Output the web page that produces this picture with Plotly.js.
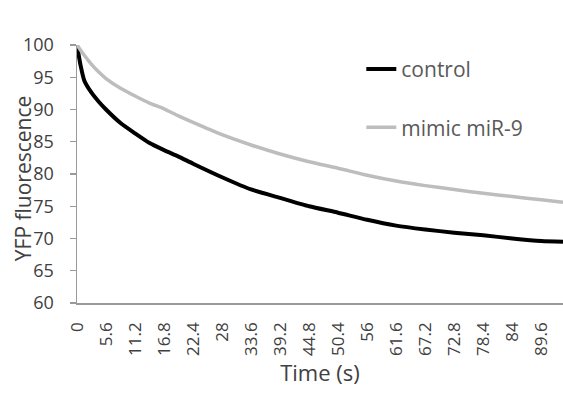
<!DOCTYPE html>
<html>
<head>
<meta charset="utf-8">
<script src="https://cdn.plot.ly/plotly-3.0.1.min.js"></script>
<style>html,body{margin:0;padding:0;background:#fff;}#chart{width:563px;height:396px;}</style>
</head>
<body>
<div id="chart"></div>
<script>
const timeS = [0, 0.7, 1.4, 2.8, 4.2, 5.6, 8.4, 11.2, 14, 16.8, 19.6, 22.4, 28, 33.6, 39.2, 44.8, 50.4, 56, 61.6, 67.2, 72.8, 78.4, 84, 89.6, 93.8];
const controlValues = [100, 96.8, 94.5, 92.6, 91.2, 90.0, 87.9, 86.3, 84.8, 83.7, 82.7, 81.6, 79.5, 77.6, 76.3, 75.0, 74.0, 72.9, 72.0, 71.4, 70.9, 70.5, 70.0, 69.6, 69.5];
const mimicValues = [100, 99.2, 98.4, 97.0, 95.8, 94.8, 93.3, 92.1, 91.0, 90.1, 89.0, 88.0, 86.1, 84.5, 83.1, 81.9, 80.9, 79.8, 78.9, 78.2, 77.6, 77.0, 76.5, 76.0, 75.6];
const xTickVals = [0, 5.6, 11.2, 16.8, 22.4, 28, 33.6, 39.2, 44.8, 50.4, 56, 61.6, 67.2, 72.8, 78.4, 84, 89.6];
const xTickText = ["0", "5.6", "11.2", "16.8", "22.4", "28", "33.6", "39.2", "44.8", "50.4", "56", "61.6", "67.2", "72.8", "78.4", "84", "89.6"];
const yTickVals = [60, 65, 70, 75, 80, 85, 90, 95, 100];
const seriesNames = ["control", "mimic miR-9"];
const xTitle = "Time (s)";
const yTitle = "YFP fluorescence";

const FONT = "Open Sans, Liberation Sans, sans-serif";
const traces = [
  {x: timeS, y: controlValues, name: seriesNames[0], type: "scatter", mode: "lines",
   line: {color: "#000000", width: 4, shape: "spline", smoothing: 0.6}, legendgroup: "a"},
  {x: timeS, y: mimicValues, name: seriesNames[1], type: "scatter", mode: "lines",
   line: {color: "#BDBDBD", width: 3.5, shape: "spline", smoothing: 0.6}, legendgroup: "b"}
];
const layout = {
  width: 563, height: 396,
  margin: {l: 77, r: 0, t: 45, b: 93},
  paper_bgcolor: "#fff", plot_bgcolor: "#fff",
  font: {family: FONT, color: "#595959", size: 14},
  showlegend: true,
  legend: {x: 0.585, y: 0.985, xanchor: "left", yanchor: "top", bgcolor: "rgba(0,0,0,0)",
    font: {family: FONT, size: 21, color: "#595959"}, tracegroupgap: 28, traceorder: "grouped", itemwidth: 30},
  xaxis: {range: [0, 93.8], tickmode: "array", tickvals: xTickVals, ticktext: xTickText,
    tickangle: -90, showgrid: false, zeroline: false, showline: true, linecolor: "#9a9a9a", linewidth: 1.5,
    ticks: "", ticklabelstandoff: 11, tickfont: {family: FONT, size: 17, color: "#404040"},
    title: {text: xTitle, font: {family: FONT, size: 22, color: "#404040"}, standoff: 10}},
  yaxis: {range: [60, 100], tickmode: "array", tickvals: yTickVals,
    showgrid: false, zeroline: false, showline: true, linecolor: "#9a9a9a", linewidth: 1.5,
    ticks: "outside", ticklen: 6, tickcolor: "#9a9a9a", tickwidth: 1.2, ticklabelstandoff: 12,
    tickfont: {family: FONT, size: 18, color: "#404040"}},
  annotations: [
    {text: yTitle, xref: "paper", yref: "paper", x: -0.111, y: 0.484, xanchor: "center", yanchor: "middle",
     textangle: -90, showarrow: false, font: {family: FONT, size: 21, color: "#404040"}}
  ]
};
Plotly.newPlot("chart", traces, layout, {displayModeBar: false, staticPlot: true});
</script>
</body>
</html>
